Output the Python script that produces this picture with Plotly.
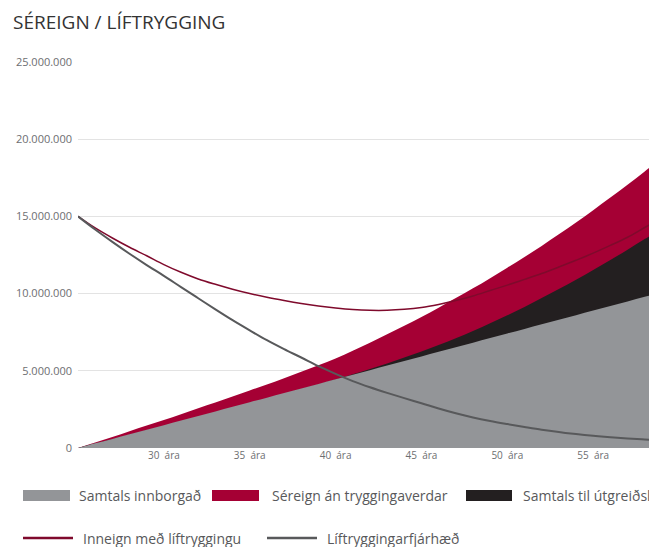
import plotly.graph_objects as go

W, H = 649, 547

# ---- data (millions ISK) ----
ages = list(range(25, 60))
innborgad = [0, 0.30, 0.59, 0.89, 1.19, 1.48, 1.78, 2.08, 2.37, 2.67, 2.97, 3.26, 3.56, 3.86,
             4.15, 4.45, 4.75, 5.04, 5.34, 5.64, 5.93, 6.23, 6.53, 6.82, 7.12, 7.42, 7.71, 8.01,
             8.31, 8.60, 8.90, 9.20, 9.49, 9.79, 10.08]
sereign = [0, 0.36, 0.71, 1.08, 1.45, 1.81, 2.19, 2.57, 2.94, 3.33, 3.72, 4.11, 4.52, 4.94,
           5.36, 5.80, 6.30, 6.82, 7.36, 7.92, 8.49, 9.09, 9.71, 10.34, 11.00, 11.68, 12.37,
           13.09, 13.84, 14.60, 15.40, 16.22, 17.05, 17.91, 18.78]
utgreidsla = [0, 0.29, 0.57, 0.86, 1.15, 1.43, 1.72, 2.02, 2.31, 2.61, 2.91, 3.21, 3.51, 3.82,
              4.12, 4.43, 4.78, 5.12, 5.48, 5.86, 6.25, 6.67, 7.11, 7.58, 8.08, 8.60, 9.14,
              9.71, 10.30, 10.90, 11.53, 12.18, 12.84, 13.53, 14.23]
inneign = [15.0, 14.25, 13.6, 13.0, 12.45, 11.88, 11.38, 10.95, 10.6, 10.28, 10.0, 9.76, 9.55,
           9.36, 9.2, 9.07, 8.97, 8.92, 8.92, 8.98, 9.1, 9.3, 9.55, 9.85, 10.2, 10.55, 10.92,
           11.3, 11.72, 12.16, 12.62, 13.12, 13.65, 14.28, 14.9]
liftrygging = [15.0, 14.15, 13.35, 12.58, 11.85, 11.15, 10.42, 9.7, 8.98, 8.28, 7.62, 6.98, 6.4,
               5.86, 5.3, 4.8, 4.33, 3.93, 3.57, 3.23, 2.9, 2.56, 2.25, 1.98, 1.75, 1.55, 1.36,
               1.18, 1.03, 0.9, 0.79, 0.7, 0.62, 0.55, 0.49]

y_tickvals = [0, 5, 10, 15, 20, 25]
y_ticktext = ["0", "5.000.000", "10.000.000", "15.000.000", "20.000.000", "25.000.000"]
x_tickvals = [30, 35, 40, 45, 50, 55]
x_ticktext = ["30  ára", "35  ára", "40  ára", "45  ára", "50  ára", "55  ára"]

names = ["Samtals innborgað", "Séreign án tryggingaverdar", "Samtals til útgreiðslu",
         "Inneign með líftryggingu", "Líftryggingarfjárhæð"]
title_text = "SÉREIGN / LÍFTRYGGING"

# ---- style ----
C_GRAY = "#939598"
C_RED = "#a50034"
C_BLACK = "#231f20"
C_REDLINE = "#7f0a2c"
C_GRAYLINE = "#58595b"
FONT = "Open Sans"

PL, PR, PT, PB = 78, 0, 62, 99
PW, PH = W - PL - PR, H - PT - PB


def px(x):
    return (x - PL) / PW


def py(y):
    return (H - PB - y) / PH


fig = go.Figure()
fig.add_trace(go.Scatter(x=ages, y=sereign, name=names[1], mode="lines", fill="tozeroy",
                         fillcolor=C_RED, line=dict(width=0, color=C_RED, shape="spline")))
fig.add_trace(go.Scatter(x=ages, y=utgreidsla, name=names[2], mode="lines", fill="tozeroy",
                         fillcolor=C_BLACK, line=dict(width=0, color=C_BLACK, shape="spline")))
fig.add_trace(go.Scatter(x=ages, y=innborgad, name=names[0], mode="lines", fill="tozeroy",
                         fillcolor=C_GRAY, line=dict(width=0, color=C_GRAY, shape="spline")))
fig.add_trace(go.Scatter(x=ages, y=inneign, name=names[3], mode="lines",
                         line=dict(width=1.5, color=C_REDLINE, shape="spline")))
fig.add_trace(go.Scatter(x=ages, y=liftrygging, name=names[4], mode="lines",
                         line=dict(width=2, color=C_GRAYLINE, shape="spline")))

shapes = []
annotations = []
LEG_FONT = dict(family=FONT, size=14, color="#58595b")
# legend row 1 (filled swatches)
row1 = [(23, 70, C_GRAY, 77, names[0]), (212, 259, C_RED, 270, names[1]),
        (466, 512, C_BLACK, 521, names[2])]
for x0, x1, col, tx, label in row1:
    shapes.append(dict(type="rect", xref="paper", yref="paper", x0=px(x0), x1=px(x1),
                       y0=py(501), y1=py(490), fillcolor=col, line=dict(width=0)))
    annotations.append(dict(xref="paper", yref="paper", x=px(tx), y=py(495), xanchor="left",
                            yanchor="middle", showarrow=False, text=label, font=LEG_FONT))
row2 = [(23, 73, C_REDLINE, 81, names[3]), (267, 317, C_GRAYLINE, 325, names[4])]
for x0, x1, col, tx, label in row2:
    shapes.append(dict(type="line", xref="paper", yref="paper", x0=px(x0), x1=px(x1),
                       y0=py(538), y1=py(538), line=dict(width=2.5, color=col)))
    annotations.append(dict(xref="paper", yref="paper", x=px(tx), y=py(538), xanchor="left",
                            yanchor="middle", showarrow=False, text=label, font=LEG_FONT))

fig.update_layout(
    width=W, height=H,
    margin=dict(l=PL, r=PR, t=PT, b=PB),
    paper_bgcolor="white", plot_bgcolor="white",
    showlegend=False,
    title=dict(text=title_text, x=13 / W, xref="container", xanchor="left",
               y=1 - 22 / H, yref="container", yanchor="middle",
               font=dict(family=FONT, size=19, color="#333333")),
    xaxis=dict(range=[25, 58.25], tickvals=x_tickvals, ticktext=x_ticktext,
               showgrid=False, zeroline=False, showline=False, ticks="",
               tickfont=dict(family=FONT, size=10, color="#6d6e71")),
    yaxis=dict(range=[0, 25], tickvals=y_tickvals, ticktext=y_ticktext,
               showgrid=True, gridcolor="#e3e3e3", gridwidth=1, zeroline=False,
               showline=False, ticks="", ticklabelstandoff=5,
               tickfont=dict(family=FONT, size=11, color="#6d6e71")),
    shapes=shapes, annotations=annotations,
)

fig.write_html("out.html", config={"displayModeBar": False},
               post_script="document.body.style.margin='0';document.body.style.overflow='hidden';")
